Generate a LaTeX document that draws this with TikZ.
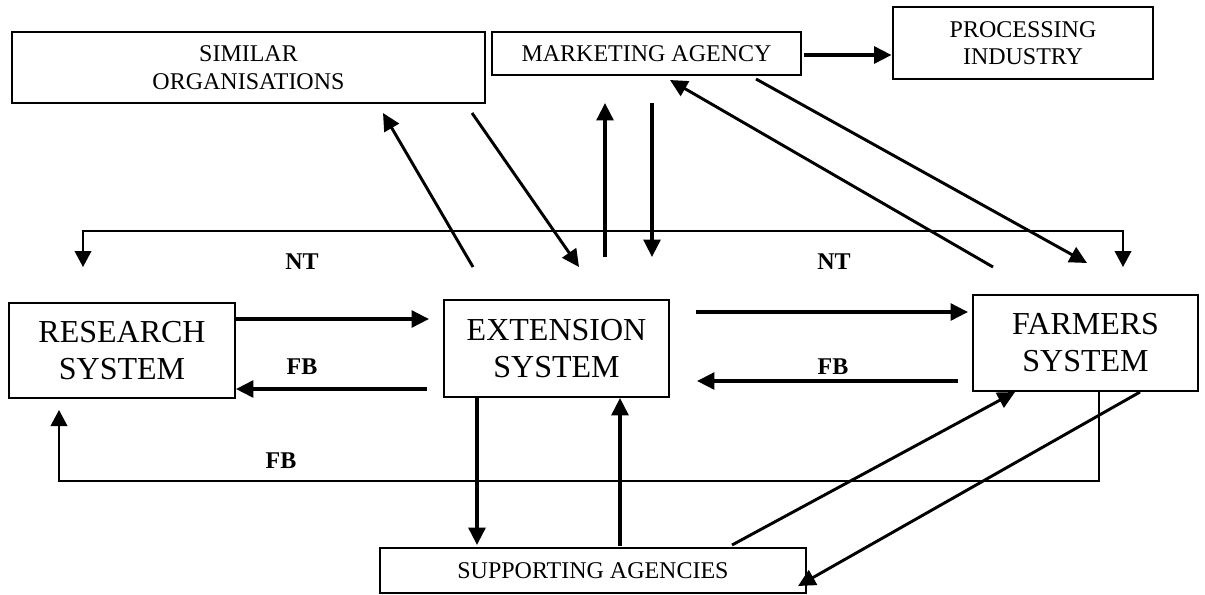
\documentclass[tikz,border=0pt]{standalone}
\usepackage{fontspec}
\setmainfont{Liberation Serif}
\usetikzlibrary{arrows.meta}
\begin{document}
\begin{tikzpicture}[x=0.75pt,y=-0.75pt,
  box/.style={draw, line width=1.4pt, inner sep=0pt, align=center, font=\fontsize{18}{20.7}\selectfont},
  bigbox/.style={box, font=\fontsize{24}{27.75}\selectfont},
  lbl/.style={font=\bfseries\fontsize{18}{20}\selectfont, inner sep=0pt},
  arr/.style={line width=2.6pt, -{Triangle[length=13pt,width=12.5pt]}},
  darr/.style={line width=2.2pt, -{Triangle[length=13pt,width=12.5pt]}},
  thinarr/.style={line width=1.2pt, {Triangle[length=12pt,width=12.5pt]}-{Triangle[length=12pt,width=12.5pt]}},
  thinone/.style={line width=1.2pt, -{Triangle[length=12pt,width=12.5pt]}},
]
\useasboundingbox (0,0) rectangle (1205,594);

% boxes
\node[box, minimum width=473*0.75pt, minimum height=71*0.75pt] (sim) at (248.5,67.5) {SIMILAR\\ORGANISATIONS};
\node[box, minimum width=309*0.75pt, minimum height=43*0.75pt] (mkt) at (646.5,53.5) {MARKETING AGENCY};
\node[box, line width=2.2pt, minimum width=260*0.75pt, minimum height=72*0.75pt] (proc) at (1023,43) {PROCESSING\\INDUSTRY};
\node[bigbox, minimum width=226*0.75pt, minimum height=95*0.75pt] (res) at (122,350.5) {RESEARCH\\SYSTEM};
\node[bigbox, minimum width=225*0.75pt, minimum height=97*0.75pt] (ext) at (556.5,348.5) {EXTENSION\\SYSTEM};
\node[bigbox, minimum width=225*0.75pt, minimum height=96*0.75pt] (farm) at (1085.5,343) {FARMERS\\SYSTEM};
\node[box, minimum width=426*0.75pt, minimum height=45*0.75pt] (sup) at (593,570.5) {SUPPORTING AGENCIES};

% labels
\node[lbl] (nt1) at (302,262) {NT};
\node[lbl] (nt2) at (834,262) {NT};
\node[lbl] (fb1) at (302,367) {FB};
\node[lbl] (fb2) at (833,367) {FB};
\node[lbl] (fb3) at (281,461) {FB};

% free ends
\coordinate (s1a) at (473,267); \coordinate (s1b) at (383,113);
\coordinate (s2a) at (472,113); \coordinate (s2b) at (579,267);
\coordinate (m1a) at (605,257); \coordinate (m1b) at (605,103);
\coordinate (m2a) at (652,103); \coordinate (m2b) at (652,257);
\coordinate (m3a) at (993,267); \coordinate (m3b) at (670,80);
\coordinate (m4a) at (756,79);  \coordinate (m4b) at (1087,263);
\coordinate (m5a) at (804,55);
\coordinate (ntl) at (83,267); \coordinate (ntlc) at (83,231);
\coordinate (ntrc) at (1123,231); \coordinate (ntr) at (1123,267);
\coordinate (r1b) at (429,319);
\coordinate (e1a) at (427,389);
\coordinate (e2a) at (696,312); \coordinate (e2b) at (968,312);
\coordinate (f1a) at (958,381); \coordinate (f1b) at (697,381);
\coordinate (x1b) at (477,545);
\coordinate (x2a) at (620,546);
\coordinate (p1a) at (732,545); \coordinate (p1b) at (1015,392);
\coordinate (p2a) at (1140,392); \coordinate (p2b) at (798,586);
\coordinate (fbb) at (59,410);

% connectors
\draw[darr] (s1a) -- (s1b);
\draw[darr] (s2a) -- (s2b);
\draw[arr] (m1a) -- (m1b);
\draw[arr] (m2a) -- (m2b);
\draw[darr] (m3a) -- (m3b);
\draw[darr] (m4a) -- (m4b);
\draw[arr] (m5a) -- (proc.west |- m5a);
\draw[thinarr] (ntl) -- (ntlc) -- (ntrc) -- (ntr);
\draw[arr] (res.east |- r1b) -- (r1b);
\draw[arr] (e1a) -- (res.east |- e1a);
\draw[arr] (e2a) -- (e2b);
\draw[arr] (f1a) -- (f1b);
\draw[arr] (ext.south -| x1b) -- (x1b);
\draw[arr] (x2a) -- (ext.south -| x2a);
\draw[darr] (p1a) -- (p1b);
\draw[darr] (p2a) -- (p2b);
\draw[thinone] (farm.south -| 1099,0) -- (1099,481) -- (59,481) -- (fbb);
\end{tikzpicture}
\end{document}
